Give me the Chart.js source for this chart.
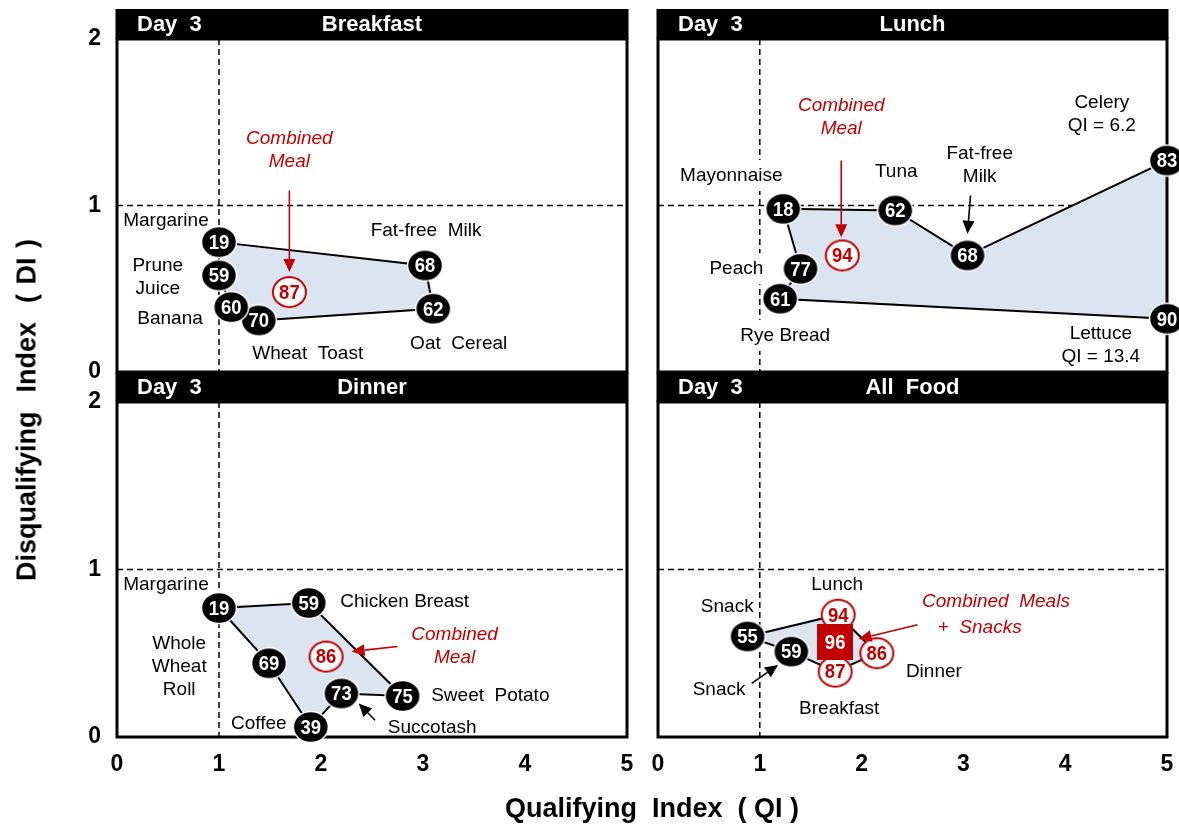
<!DOCTYPE html>
<html>
<head>
<meta charset="utf-8">
<script src="https://cdn.jsdelivr.net/npm/chart.js@4.4.0/dist/chart.umd.min.js"></script>
<style>
  html, body { margin: 0; padding: 0; background: #fff; }
  #wrap { position: relative; width: 1179px; height: 824px; overflow: hidden; }
  #wrap canvas { position: absolute; left: 0; top: 0; }
  .axis-title {
    position: absolute;
    font-family: "Liberation Sans", Arial, sans-serif;
    font-weight: bold;
    font-size: 27px;
    color: #000;
    white-space: pre;
    transform: translate(-50%, -50%);
  }
  #yTitle { transform: translate(-50%, -50%) rotate(-90deg); word-spacing: 2px; }
</style>
</head>
<body>
<div id="wrap">
  <canvas id="breakfast" width="1179" height="824"></canvas>
  <canvas id="lunch" width="1179" height="824"></canvas>
  <canvas id="dinner" width="1179" height="824"></canvas>
  <canvas id="allfood" width="1179" height="824"></canvas>
  <div class="axis-title" id="xTitle" style="left:652px; top:808px;">Qualifying  Index  ( QI )</div>
  <div class="axis-title" id="yTitle" style="left:27px; top:410px;">Disqualifying  Index  ( DI )</div>
</div>
<script>
// ---- data (QI on x, DI on y), listed in polygon order ----
const breakfastScores = [19, 68, 62, 70, 60, 59];
const breakfastQI = [1.0, 3.02, 3.10, 1.39, 1.12, 1.0];
const breakfastDI = [0.78, 0.64, 0.38, 0.31, 0.39, 0.58];
const breakfastMeal = [1.69, 0.48, 87];

const lunchScores = [18, 62, 68, 83, 90, 61, 77];
const lunchQI = [1.23, 2.33, 3.04, 5.0, 5.0, 1.20, 1.40];
const lunchDI = [0.98, 0.97, 0.70, 1.27, 0.32, 0.44, 0.62];
const lunchMeal = [1.81, 0.70, 94];

const dinnerScores = [19, 59, 75, 73, 39, 69];
const dinnerQI = [1.0, 1.88, 2.80, 2.20, 1.90, 1.49];
const dinnerDI = [0.77, 0.80, 0.245, 0.26, 0.06, 0.44];
const dinnerMeal = [2.05, 0.48, 86];

// all food: snacks are black, meals are red circles
const allScores = [55, 94, 86, 87, 59];
const allQI = [0.88, 1.77, 2.15, 1.74, 1.31];
const allDI = [0.60, 0.73, 0.50, 0.39, 0.51];
const allIsMeal = [false, true, true, true, false];
const allCombined = [1.74, 0.565, 96];

const xTicks = [0, 1, 2, 3, 4, 5];
const yTicks = [0, 1, 2];

// ---- look ----
const FONT = '"Liberation Sans", Arial, sans-serif';
const RED = '#c00000';
const FILL = '#dbe5f1';
const AXIS_W = 40, AXIS_H = 40;

function pts(qi, di) {
  return qi.map((q, i) => ({ x: q, y: di[i] }));
}

// small sprites used as point styles (slightly wide ovals like the original)
function oval(w, h, fill, stroke, lw) {
  const c = document.createElement('canvas');
  c.width = w + 2 * lw;
  c.height = h + 2 * lw;
  const g = c.getContext('2d');
  g.beginPath();
  g.ellipse(c.width / 2, c.height / 2, w / 2, h / 2, 0, 0, Math.PI * 2);
  g.fillStyle = fill;
  g.fill();
  g.lineWidth = lw;
  g.strokeStyle = stroke;
  g.stroke();
  return c;
}
function box(s, fill) {
  const c = document.createElement('canvas');
  c.width = s; c.height = s;
  const g = c.getContext('2d');
  g.fillStyle = fill;
  g.fillRect(0, 0, s, s);
  return c;
}
const blackDot = oval(35, 31, '#000', '#fff', 1.5);
const redRing = oval(33, 30, '#fff', RED, 2);
const redSquare = box(36, RED);

const panels = [
  {
    id: 'breakfast', title: 'Breakfast', area: { left: 117, top: 39, right: 627, bottom: 372 },
    showX: false, showY: true,
    points: pts(breakfastQI, breakfastDI), scores: breakfastScores,
    meals: [{ x: breakfastMeal[0], y: breakfastMeal[1] }], mealScores: [breakfastMeal[2]],
    labels: [
      { t: ['Margarine'], x: 0.48, y: 0.91 },
      { t: ['Prune', 'Juice'], x: 0.40, y: 0.57 },
      { t: ['Banana'], x: 0.52, y: 0.32 },
      { t: ['Wheat  Toast'], x: 1.87, y: 0.11 },
      { t: ['Fat-free  Milk'], x: 3.03, y: 0.85 },
      { t: ['Oat  Cereal'], x: 3.35, y: 0.17 },
      { t: ['Combined', 'Meal'], x: 1.69, y: 1.33, red: true }
    ],
    arrows: [{ from: [1.69, 1.09], to: [1.69, 0.60], red: true }]
  },
  {
    id: 'lunch', title: 'Lunch', area: { left: 658, top: 39, right: 1167, bottom: 372 },
    showX: false, showY: false,
    points: pts(lunchQI, lunchDI), scores: lunchScores,
    meals: [{ x: lunchMeal[0], y: lunchMeal[1] }], mealScores: [lunchMeal[2]],
    labels: [
      { t: ['Mayonnaise'], x: 0.72, y: 1.18, bg: true },
      { t: ['Peach'], x: 0.77, y: 0.62, bg: true },
      { t: ['Rye Bread'], x: 1.25, y: 0.22, bg: true },
      { t: ['Tuna'], x: 2.34, y: 1.20 },
      { t: ['Fat-free', 'Milk'], x: 3.16, y: 1.24 },
      { t: ['Celery', 'QI = 6.2'], x: 4.36, y: 1.55 },
      { t: ['Lettuce', 'QI = 13.4'], x: 4.35, y: 0.16 },
      { t: ['Combined', 'Meal'], x: 1.80, y: 1.53, red: true }
    ],
    arrows: [
      { from: [1.80, 1.27], to: [1.80, 0.81], red: true },
      { from: [3.07, 1.06], to: [3.04, 0.83] }
    ]
  },
  {
    id: 'dinner', title: 'Dinner', area: { left: 117, top: 402, right: 627, bottom: 737 },
    showX: true, showY: true,
    points: pts(dinnerQI, dinnerDI), scores: dinnerScores,
    meals: [{ x: dinnerMeal[0], y: dinnerMeal[1] }], mealScores: [dinnerMeal[2]],
    labels: [
      { t: ['Margarine'], x: 0.48, y: 0.91 },
      { t: ['Whole', 'Wheat', 'Roll'], x: 0.61, y: 0.42 },
      { t: ['Chicken Breast'], x: 2.82, y: 0.81 },
      { t: ['Sweet  Potato'], x: 3.66, y: 0.245 },
      { t: ['Succotash'], x: 3.09, y: 0.054 },
      { t: ['Coffee'], x: 1.39, y: 0.08 },
      { t: ['Combined', 'Meal'], x: 3.31, y: 0.54, red: true }
    ],
    arrows: [
      { from: [2.75, 0.54], to: [2.30, 0.51], red: true },
      { from: [2.53, 0.10], to: [2.37, 0.20] }
    ]
  },
  {
    id: 'allfood', title: 'All  Food', area: { left: 658, top: 402, right: 1167, bottom: 737 },
    showX: true, showY: false,
    points: pts(allQI, allDI), scores: allScores, mealFlags: allIsMeal,
    square: { x: allCombined[0], y: allCombined[1] }, squareScore: allCombined[2],
    labels: [
      { t: ['Lunch'], x: 1.76, y: 0.91 },
      { t: ['Snack'], x: 0.68, y: 0.78, bg: true },
      { t: ['Snack'], x: 0.60, y: 0.28, bg: true },
      { t: ['Breakfast'], x: 1.78, y: 0.17 },
      { t: ['Dinner'], x: 2.71, y: 0.39 },
      { t: ['Combined  Meals'], x: 3.32, y: 0.81, red: true },
      { t: ['+  Snacks'], x: 3.16, y: 0.65, red: true }
    ],
    arrows: [
      { from: [0.92, 0.32], to: [1.18, 0.43] },
      { from: [2.55, 0.67], to: [1.97, 0.585], red: true }
    ]
  }
];

function drawArrow(ctx, x1, y1, x2, y2, color) {
  const ang = Math.atan2(y2 - y1, x2 - x1);
  const len = 13, half = 6;
  const c = Math.cos(ang), s = Math.sin(ang);
  ctx.save();
  ctx.strokeStyle = color;
  ctx.fillStyle = color;
  ctx.lineWidth = 1.6;
  ctx.beginPath();
  ctx.moveTo(x1, y1);
  ctx.lineTo(x2 - c * len, y2 - s * len);
  ctx.stroke();
  ctx.beginPath();
  ctx.moveTo(x2, y2);
  ctx.lineTo(x2 - c * len - s * half, y2 - s * len + c * half);
  ctx.lineTo(x2 - c * len + s * half, y2 - s * len - c * half);
  ctx.closePath();
  ctx.fill();
  ctx.restore();
}

function labelFont(l) {
  return (l.red ? 'italic ' : '') + '19px ' + FONT;
}

const panelPlugin = {
  id: 'panelPlugin',
  beforeDatasetsDraw(chart) {
    const { ctx, chartArea: a, scales: { x, y } } = chart;
    const p = chart.options.plugins.panelPlugin.panel;
    // dashed reference lines at QI = 1 and DI = 1
    ctx.save();
    ctx.strokeStyle = '#000';
    ctx.lineWidth = 1.5;
    ctx.setLineDash([6, 4]);
    const px = x.getPixelForValue(1), py = y.getPixelForValue(1);
    ctx.beginPath();
    ctx.moveTo(px, a.top); ctx.lineTo(px, a.bottom);
    ctx.moveTo(a.left, py); ctx.lineTo(a.right, py);
    ctx.stroke();
    ctx.restore();
    // white boxes behind some labels (they hide the dashed line)
    ctx.save();
    ctx.fillStyle = '#fff';
    p.labels.filter(l => l.bg).forEach(l => {
      ctx.font = labelFont(l);
      const w = Math.max(...l.t.map(s => ctx.measureText(s).width)) + 10;
      const h = l.t.length * 23 + 8;
      const cx = x.getPixelForValue(l.x), cy = y.getPixelForValue(l.y);
      ctx.fillRect(cx - w / 2, cy - h / 2, w, h);
    });
    ctx.restore();
  },
  afterDatasetDraw(chart, args) {
    const ds = chart.data.datasets[args.index];
    const ctx = chart.ctx;
    if (ds.isShape) {
      const a = chart.chartArea;
      ctx.save();
      ctx.strokeStyle = '#000';
      ctx.lineWidth = 3;
      ctx.strokeRect(a.left, a.top, a.right - a.left, a.bottom - a.top);
      ctx.restore();
      return;
    }
    if (!ds.numbers) return;
    ctx.save();
    ctx.font = 'bold 21px ' + FONT;
    ctx.textAlign = 'center';
    ctx.textBaseline = 'middle';
    ctx.fillStyle = ds.numColor;
    args.meta.data.forEach((el, i) => {
      ctx.save();
      ctx.translate(el.x, el.y + 1);
      ctx.scale(0.88, 1);
      ctx.fillText(String(ds.numbers[i]), 0, 0);
      ctx.restore();
    });
    ctx.restore();
  },
  afterDatasetsDraw(chart) {
    const { ctx, scales: { x, y } } = chart;
    const p = chart.options.plugins.panelPlugin.panel;
    ctx.save();
    ctx.textAlign = 'center';
    ctx.textBaseline = 'middle';
    p.labels.forEach(l => {
      ctx.font = labelFont(l);
      ctx.fillStyle = l.red ? RED : '#000';
      const cx = x.getPixelForValue(l.x), cy = y.getPixelForValue(l.y);
      const lh = 23;
      const top = cy - (l.t.length - 1) * lh / 2;
      l.t.forEach((s, i) => ctx.fillText(s, cx, top + i * lh));
    });
    ctx.restore();
    p.arrows.forEach(ar => {
      drawArrow(ctx, x.getPixelForValue(ar.from[0]), y.getPixelForValue(ar.from[1]),
        x.getPixelForValue(ar.to[0]), y.getPixelForValue(ar.to[1]), ar.red ? RED : '#000');
    });
  },
  afterDraw(chart) {
    const { ctx, chartArea: a } = chart;
    const p = chart.options.plugins.panelPlugin.panel;
    const h = 30;
    ctx.save();
    ctx.fillStyle = '#000';
    ctx.fillRect(a.left - 1.5, a.top - h, a.right - a.left + 3, h);
    ctx.fillStyle = '#fff';
    ctx.font = 'bold 22px ' + FONT;
    ctx.textBaseline = 'middle';
    ctx.textAlign = 'left';
    ctx.fillText('Day  3', a.left + 20, a.top - h / 2 + 1);
    ctx.textAlign = 'center';
    ctx.fillText(p.title, (a.left + a.right) / 2, a.top - h / 2 + 1);
    ctx.restore();
  }
};

function makePanel(p) {
  const closed = p.points.concat([p.points[0]]);
  const datasets = [
    {
      isShape: true, data: closed, showLine: true, fill: 'shape',
      backgroundColor: FILL, borderColor: '#000', borderWidth: 2,
      pointRadius: 0, order: 5
    }
  ];
  const flags = p.mealFlags || p.points.map(() => false);
  datasets.push({
    data: p.points.filter((_, i) => !flags[i]),
    numbers: p.scores.filter((_, i) => !flags[i]),
    numColor: '#fff', showLine: false,
    pointStyle: blackDot, pointRadius: 16, clip: false, order: 3
  });
  let meals = p.meals || [], mealNums = p.mealScores || [];
  if (p.mealFlags) {
    meals = p.points.filter((_, i) => flags[i]);
    mealNums = p.scores.filter((_, i) => flags[i]);
  }
  datasets.push({
    data: meals, numbers: mealNums, numColor: RED, showLine: false,
    pointStyle: redRing, pointRadius: 16, clip: false, order: 2
  });
  if (p.square) {
    datasets.push({
      data: [p.square], numbers: [p.squareScore], numColor: '#fff', showLine: false,
      pointStyle: redSquare, pointRadius: 18, clip: false, order: 1
    });
  }

  const tickFont = { family: FONT, size: 23, weight: 'bold' };
  new Chart(document.getElementById(p.id), {
    type: 'scatter',
    data: { datasets },
    options: {
      responsive: false,
      animation: false,
      events: [],
      layout: {
        autoPadding: false,
        padding: {
          left: p.area.left - AXIS_W,
          top: p.area.top,
          right: 1179 - p.area.right,
          bottom: 824 - p.area.bottom - AXIS_H
        }
      },
      plugins: {
        legend: { display: false },
        tooltip: { enabled: false },
        panelPlugin: { panel: p }
      },
      scales: {
        x: {
          type: 'linear', min: xTicks[0], max: xTicks[xTicks.length - 1],
          afterBuildTicks: s => { s.ticks = xTicks.map(v => ({ value: v })); },
          afterFit: s => { s.height = AXIS_H; s.paddingLeft = 0; s.paddingRight = 0; },
          grid: { display: false, drawTicks: false },
          border: { display: false },
          ticks: { display: p.showX, font: tickFont, color: '#000', padding: 14, maxRotation: 0 }
        },
        y: {
          type: 'linear', min: yTicks[0], max: yTicks[yTicks.length - 1],
          afterBuildTicks: s => { s.ticks = yTicks.map(v => ({ value: v })); },
          afterFit: s => { s.width = AXIS_W; s.paddingTop = 0; s.paddingBottom = 0; },
          grid: { display: false, drawTicks: false },
          border: { display: false },
          ticks: { display: p.showY, font: tickFont, color: '#000', padding: 16 }
        }
      }
    },
    plugins: [panelPlugin]
  });
}

panels.forEach(makePanel);
</script>
</body>
</html>
